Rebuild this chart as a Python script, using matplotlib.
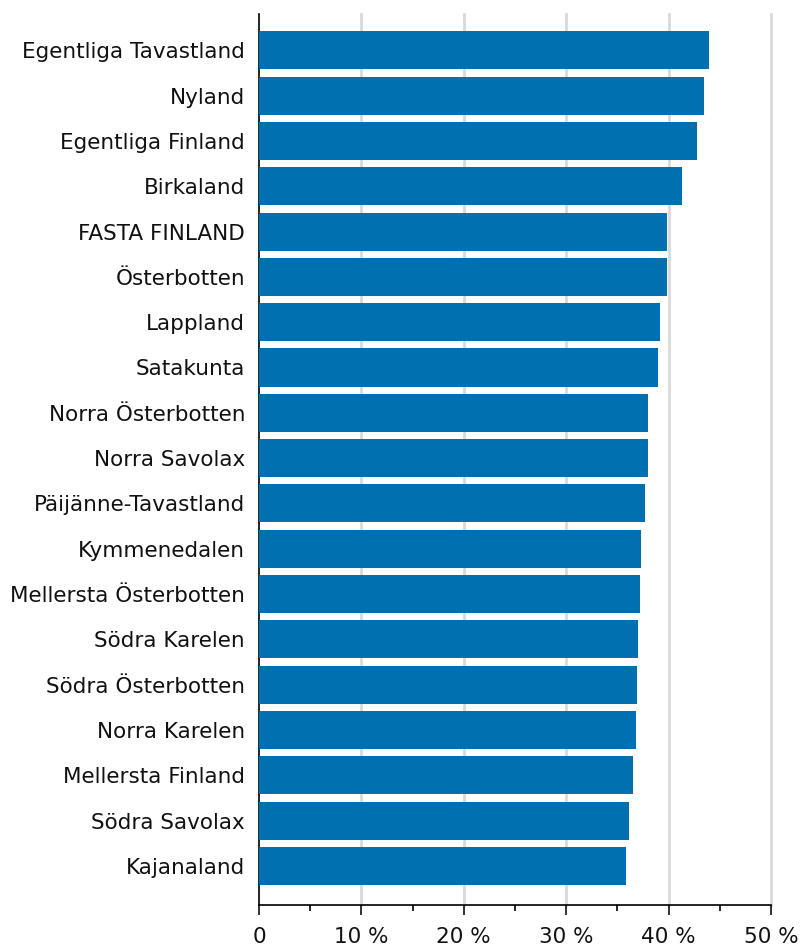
import matplotlib
matplotlib.use("Agg")
import matplotlib.pyplot as plt
import numpy as np
from matplotlib.ticker import MultipleLocator, FuncFormatter

# shares per region (percent)
regions = ["Egentliga Tavastland", "Nyland", "Egentliga Finland", "Birkaland",
           "FASTA FINLAND", "Österbotten", "Lappland", "Satakunta",
           "Norra Österbotten", "Norra Savolax", "Päijänne-Tavastland",
           "Kymmenedalen", "Mellersta Österbotten", "Södra Karelen",
           "Södra Österbotten", "Norra Karelen", "Mellersta Finland",
           "Södra Savolax", "Kajanaland"]
values = [43.9, 43.5, 42.8, 41.3, 39.8, 39.8, 39.2, 39.0, 38.0, 37.95,
          37.7, 37.3, 37.2, 37.0, 36.9, 36.8, 36.5, 36.1, 35.8]

fig = plt.figure(figsize=(8, 9.47), dpi=100)
ax = fig.add_axes([259/800, 1 - 905/947, 512/800, 891/947])

y = np.arange(len(regions))
ax.barh(y, values, height=0.84, color="#0070b0", zorder=3)

ax.set_xlim(0, 50)
ax.set_ylim(len(regions) - 1 + 0.86, -0.8)
ax.set_yticks(y)
ax.set_yticklabels(regions, fontsize=15.5, color="#111111")
ax.tick_params(axis="y", length=0, pad=10)

ax.xaxis.set_major_locator(MultipleLocator(10))
ax.xaxis.set_minor_locator(MultipleLocator(5))
ax.xaxis.set_major_formatter(FuncFormatter(lambda v, p: "0" if v == 0 else f"{v:.0f} %"))
ax.tick_params(axis="x", which="major", length=7, width=1.2, labelsize=15.5,
               pad=9, colors="#111111")
ax.tick_params(axis="x", which="minor", length=4, width=1.2)

# vertical gridlines, drawn unclipped so the 50 % line is full width
for gx in range(10, 51, 10):
    ax.axvline(gx, color="#d9d9d9", linewidth=2, zorder=0, clip_on=False)

for s in ["top", "right"]:
    ax.spines[s].set_visible(False)
ax.spines["left"].set_linewidth(1.2)
ax.spines["bottom"].set_linewidth(1.2)

fig.savefig("out.png", dpi=100)
